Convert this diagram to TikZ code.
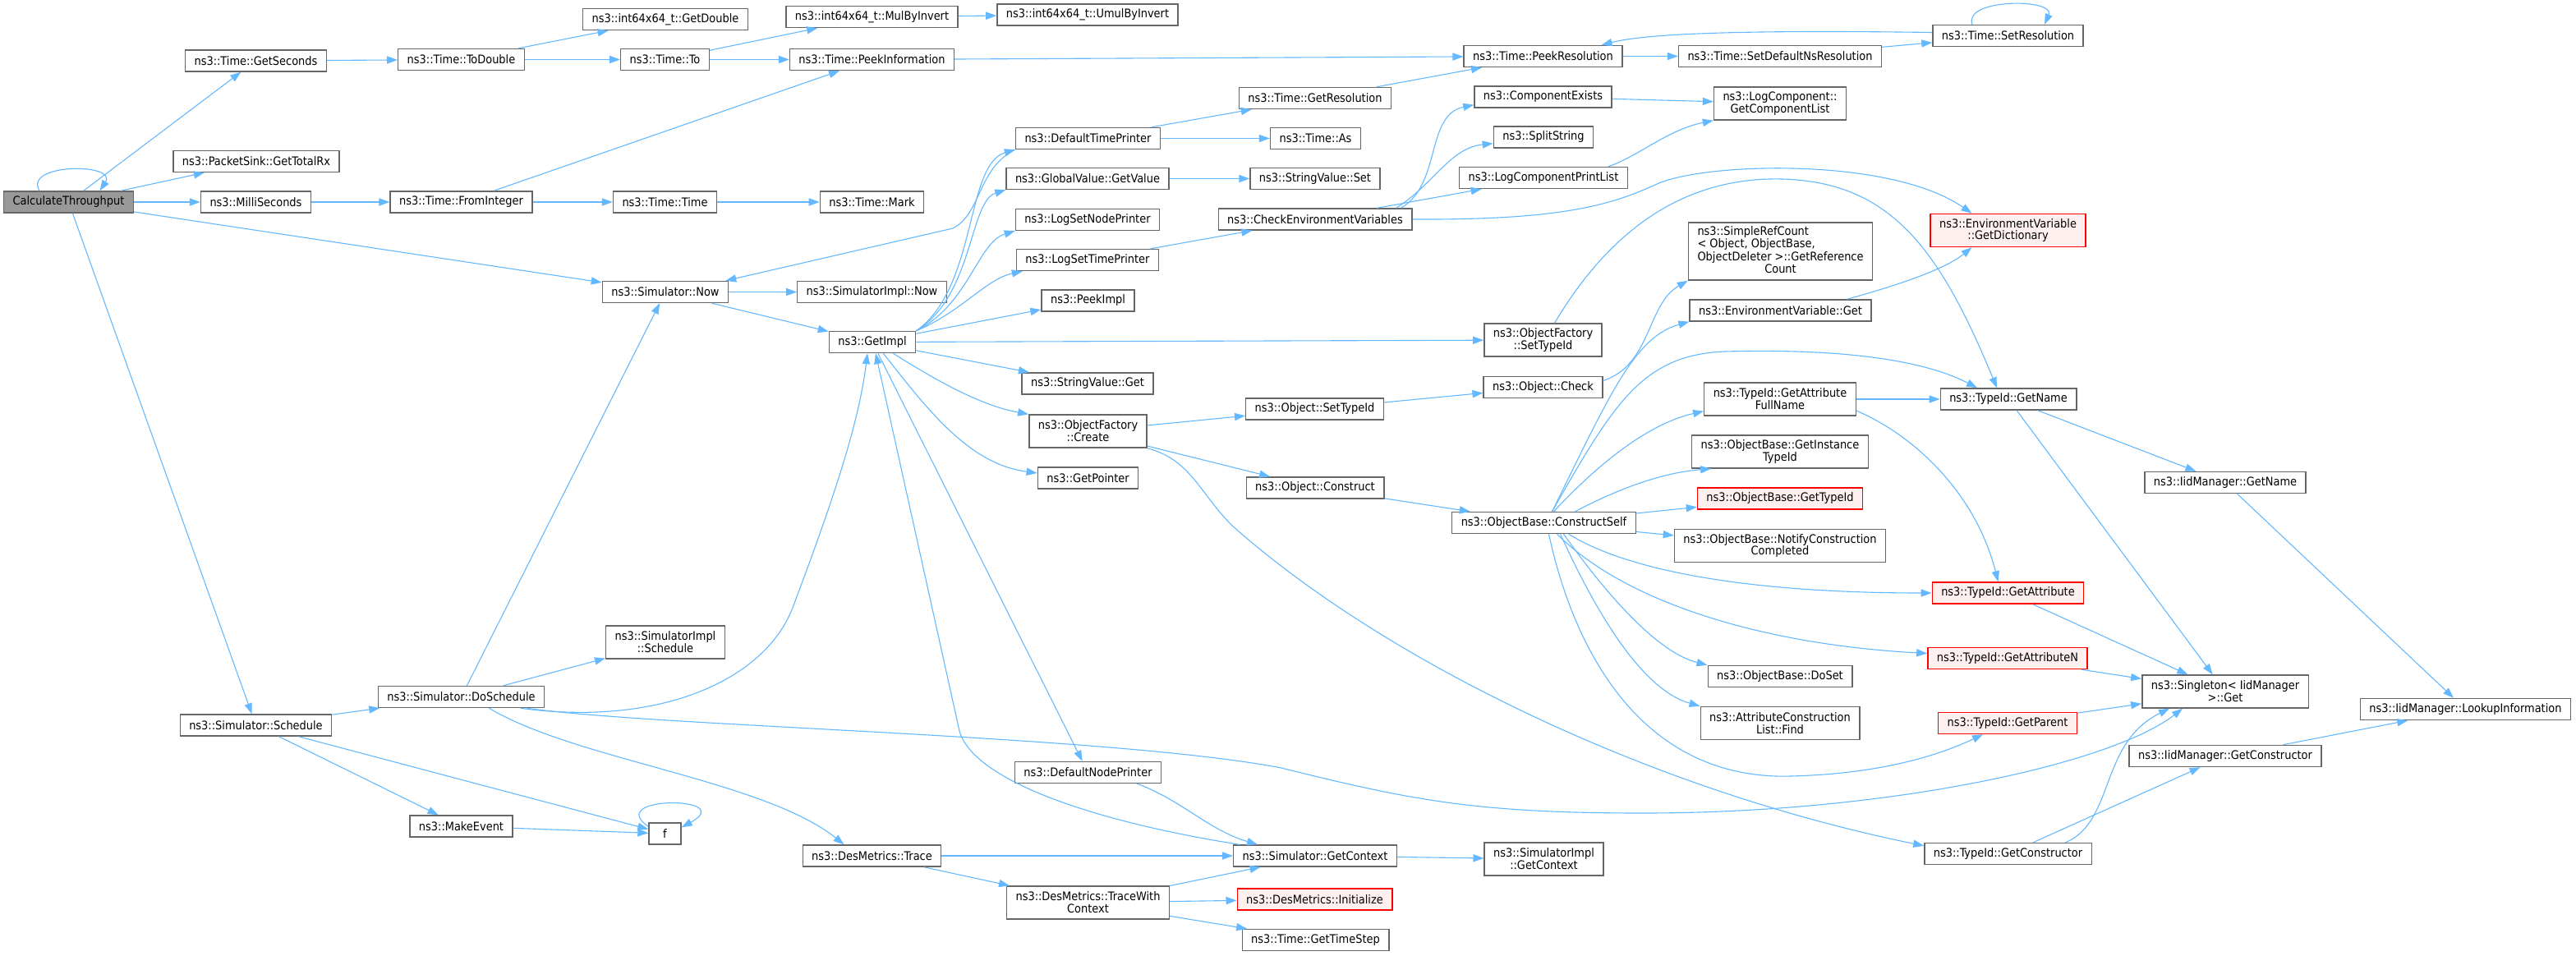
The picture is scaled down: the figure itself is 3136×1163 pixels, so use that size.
\documentclass[tikz,border=0pt]{standalone}
\usepackage{fontspec}
\setmainfont{DejaVu Sans Condensed}
\usetikzlibrary{arrows.meta}
\definecolor{edgeblue}{HTML}{63B8FF}
\definecolor{boxgray}{HTML}{666666}
\definecolor{rootgray}{HTML}{999999}
\definecolor{redfill}{HTML}{FFF0F0}
\tikzstyle{fnbox} = [draw=boxgray, fill=white, line width=0.7pt, inner xsep=5.5pt, inner ysep=2pt, minimum height=13pt, align=center]
\tikzstyle{twoline} = [fnbox, minimum height=20pt]
\tikzstyle{redbox} = [fnbox, draw=red, fill=redfill]
\tikzstyle{call} = [draw=edgeblue, line width=0.55pt, -{Triangle[length=6.5pt,width=4.6pt]}]

\begin{document}
\begin{tikzpicture}[x=0.5pt, y=-0.5pt, font=\fontsize{7.2}{7.4}\selectfont]
      \useasboundingbox (0,0) rectangle (3136,1163);
      \node[fnbox, fill=rootgray] (calc) at (83.5,246) {CalculateThroughput};
      \node[fnbox] (getsec) at (311.5,74) {ns3::Time::GetSeconds};
      \node[fnbox] (totalrx) at (312,196.5) {ns3::PacketSink::GetTotalRx};
      \node[fnbox] (milli) at (311.5,246) {ns3::MilliSeconds};
      \node[fnbox] (simsched) at (311.5,883) {ns3::Simulator::Schedule};
      \node[fnbox] (todouble) at (561.5,72.5) {ns3::Time::ToDouble};
      \node[fnbox] (frominteger) at (561.5,246) {ns3::Time::FromInteger};
      \node[fnbox] (dosched) at (561.5,848.5) {ns3::Simulator::DoSchedule};
      \node[fnbox] (makeevent) at (561.5,1006) {ns3::MakeEvent};
      \node[fnbox] (getdouble) at (810,23.5) {ns3::int64x64\_t::GetDouble};
      \node[fnbox] (timeto) at (809.5,72.5) {ns3::Time::To};
      \node[fnbox] (timetime) at (809.5,246) {ns3::Time::Time};
      \node[fnbox] (simnow) at (810,355.5) {ns3::Simulator::Now};
      \node[twoline] (implsched) at (810,782) {ns3::SimulatorImpl\\::Schedule};
      \node[fnbox, minimum width=19.5pt] (fn) at (809.5,1015) {f};
      \node[fnbox] (mulinv) at (1061.5,20.5) {ns3::int64x64\_t::MulByInvert};
      \node[fnbox] (peekinfo) at (1061.5,72.5) {ns3::Time::PeekInformation};
      \node[fnbox] (timemark) at (1061.5,246) {ns3::Time::Mark};
      \node[fnbox] (implnow) at (1061.5,355.5) {ns3::SimulatorImpl::Now};
      \node[fnbox] (getimpl) at (1062,416.5) {ns3::GetImpl};
      \node[fnbox] (destrace) at (1061.5,1042) {ns3::DesMetrics::Trace};
      \node[fnbox] (umulinv) at (1324,18) {ns3::int64x64\_t::UmulByInvert};
      \node[fnbox] (deftimepr) at (1324.5,168.5) {ns3::DefaultTimePrinter};
      \node[fnbox] (globalget) at (1324,217.5) {ns3::GlobalValue::GetValue};
      \node[fnbox] (lognodepr) at (1324,267.5) {ns3::LogSetNodePrinter};
      \node[fnbox] (logtimepr) at (1324,316.5) {ns3::LogSetTimePrinter};
      \node[fnbox] (peekimpl) at (1324.5,366) {ns3::PeekImpl};
      \node[fnbox] (strget) at (1324,467) {ns3::StringValue::Get};
      \node[twoline] (ofcreate) at (1324.5,525) {ns3::ObjectFactory\\::Create};
      \node[fnbox] (getptr) at (1324.5,582) {ns3::GetPointer};
      \node[fnbox] (defnodepr) at (1324.5,940.5) {ns3::DefaultNodePrinter};
      \node[twoline] (tracectx) at (1324.5,1099) {ns3::DesMetrics::TraceWith\\Context};
      \node[fnbox] (getres) at (1601,119.5) {ns3::Time::GetResolution};
      \node[fnbox] (timeas) at (1601.5,168.5) {ns3::Time::As};
      \node[fnbox] (strset) at (1601,217.5) {ns3::StringValue::Set};
      \node[fnbox] (checkenv) at (1601,267) {ns3::CheckEnvironmentVariables};
      \node[fnbox] (objsettid) at (1600.5,498) {ns3::Object::SetTypeId};
      \node[fnbox] (objconstruct) at (1601,594) {ns3::Object::Construct};
      \node[fnbox] (simctx) at (1601,1042) {ns3::Simulator::GetContext};
      \node[redbox] (desinit) at (1600.5,1095) {ns3::DesMetrics::Initialize};
      \node[fnbox] (timestep) at (1601.5,1144.5) {ns3::Time::GetTimeStep};
      \node[fnbox] (peekres) at (1878.5,68.5) {ns3::Time::PeekResolution};
      \node[fnbox] (compexists) at (1878.5,118) {ns3::ComponentExists};
      \node[fnbox] (splitstr) at (1879,167) {ns3::SplitString};
      \node[fnbox] (logprint) at (1879,216.5) {ns3::LogComponentPrintList};
      \node[twoline] (ofsettid) at (1878.5,414) {ns3::ObjectFactory\\::SetTypeId};
      \node[fnbox] (objcheck) at (1878.5,471.5) {ns3::Object::Check};
      \node[fnbox] (cself) at (1879.5,636.5) {ns3::ObjectBase::ConstructSelf};
      \node[twoline] (implctx) at (1879.5,1046) {ns3::SimulatorImpl\\::GetContext};
      \node[fnbox] (setdefres) at (2167,68.5) {ns3::Time::SetDefaultNsResolution};
      \node[twoline] (complist) at (2167,126) {ns3::LogComponent::\\GetComponentList};
      \node[fnbox, minimum height=35pt] (refcount) at (2167.5,306) {\begin{tabular}{@{}l@{}}ns3::SimpleRefCount\\< Object, ObjectBase,\\ ObjectDeleter >::GetReference\\\multicolumn{1}{@{}c@{}}{Count}\end{tabular}};
      \node[fnbox] (envget) at (2167.5,378) {ns3::EnvironmentVariable::Get};
      \node[twoline] (attrfull) at (2167,486) {ns3::TypeId::GetAttribute\\FullName};
      \node[twoline] (insttid) at (2167,550) {ns3::ObjectBase::GetInstance\\TypeId};
      \node[redbox] (obtid) at (2167,607) {ns3::ObjectBase::GetTypeId};
      \node[twoline] (notify) at (2167,664.5) {ns3::ObjectBase::NotifyConstruction\\Completed};
      \node[fnbox] (doset) at (2167,823.5) {ns3::ObjectBase::DoSet};
      \node[twoline] (attrfind) at (2167,880.5) {ns3::AttributeConstruction\\List::Find};
      \node[fnbox] (setres) at (2444.5,43.5) {ns3::Time::SetResolution};
      \node[redbox, minimum height=20pt] (getdict) at (2444.5,280.5) {ns3::EnvironmentVariable\\::GetDictionary};
      \node[fnbox] (tidname) at (2445,486) {ns3::TypeId::GetName};
      \node[redbox] (tidattr) at (2444.5,722) {ns3::TypeId::GetAttribute};
      \node[redbox] (tidattrn) at (2444,801.5) {ns3::TypeId::GetAttributeN};
      \node[redbox] (tidparent) at (2444,880.5) {ns3::TypeId::GetParent};
      \node[fnbox] (tidctor) at (2444.5,1039.5) {ns3::TypeId::GetConstructor};
      \node[fnbox] (iidname) at (2709,587.5) {ns3::IidManager::GetName};
      \node[twoline] (singleton) at (2709,842) {ns3::Singleton< IidManager\\>::Get};
      \node[fnbox] (iidctor) at (2709,920.5) {ns3::IidManager::GetConstructor};
      \node[fnbox] (lookup) at (3001.5,863.5) {ns3::IidManager::LookupInformation};

      \draw[call] ([xshift=-17.75pt]calc.north) .. controls +(-20,-34) and +(22,-34) .. ([xshift=19pt]calc.north);
      \draw[call] (calc) -- (getsec);
      \draw[call] (calc) -- (totalrx);
      \draw[call] (calc) -- (milli);
      \draw[call] (calc) -- (simnow);
      \draw[call] (calc) -- (simsched);
      \draw[call] (getsec) -- (todouble);
      \draw[call] (todouble) -- (getdouble);
      \draw[call] (todouble) -- (timeto);
      \draw[call] (timeto) -- (mulinv);
      \draw[call] (timeto) -- (peekinfo);
      \draw[call] (mulinv) -- (umulinv);
      \draw[call] (peekinfo) -- (peekres);
      \draw[call] (milli) -- (frominteger);
      \draw[call] (frominteger) -- (peekinfo);
      \draw[call] (frominteger) -- (timetime);
      \draw[call] (timetime) -- (timemark);
      \draw[call] (peekres) -- (setdefres);
      \draw[call] (setdefres) -- (setres);
      \draw[call] ([xshift=-21.75pt]setres.north) .. controls +(-12,-32) and +(14,-32) .. ([xshift=22.25pt]setres.north);
      \draw[call] ([yshift=2pt]setres.west) .. controls (2100,36) and (2000,42) .. ([xshift=-13pt]peekres.north east);
      \draw[call] (getres) -- (peekres);
      \draw[call] (deftimepr) -- (getres);
      \draw[call] (deftimepr) -- (timeas);
      \draw[call] (deftimepr.south west) .. controls (1190,205) and (1195,260) .. (1160,278) -- ([xshift=-2pt]simnow.north east);
      \draw[call] (globalget) -- (strset);
      \draw[call] (logtimepr) -- (checkenv);
      \draw[call] ([xshift=-7pt]checkenv.north east) .. controls (1755,225) and (1735,140) .. ([yshift=2pt]compexists.south west);
      \draw[call] ([xshift=-10pt]checkenv.north east) .. controls (1745,225) and (1765,180) .. ([yshift=3pt]splitstr.south west);
      \draw[call] (checkenv) -- (logprint);
      \draw[call] (checkenv.east) .. controls (1900,268) and (1960,250) .. (2015,225) .. controls (2070,198) and (2300,190) .. ([xshift=-22pt]getdict.north);
      \draw[call] (compexists) -- (complist);
      \draw[call] ([xshift=-12pt]logprint.north east) .. controls (1995,190) and (2030,158) .. (complist.south west);
      \draw[call] (simnow) -- (implnow);
      \draw[call] (simnow) -- (getimpl);
      \draw[call] (getimpl.north east) .. controls (1190,350) and (1175,200) .. (deftimepr.south west);
      \draw[call] (getimpl.north east) .. controls (1185,360) and (1180,245) .. (globalget.south west);
      \draw[call] (getimpl.north east) .. controls (1180,370) and (1190,295) .. (lognodepr.south west);
      \draw[call] (getimpl.north east) .. controls (1170,380) and (1200,340) .. ([xshift=4pt]logtimepr.south west);
      \draw[call] (getimpl) -- (peekimpl);
      \draw[call] (getimpl) -- (ofsettid);
      \draw[call] (getimpl) -- (strget);
      \draw[call] ([xshift=-14pt]getimpl.south east) .. controls (1150,470) and (1200,495) .. (ofcreate.north west);
      \draw[call] ([xshift=-20pt]getimpl.south east) .. controls (1130,500) and (1180,565) .. ([yshift=3pt]getptr.west);
      \draw[call] (getimpl) -- (defnodepr);
      \draw[call] (dosched) -- (simnow);
      \draw[call] (simsched) -- (dosched);
      \draw[call] (simsched) -- (makeevent);
      \draw[call] (simsched) -- (fn);
      \draw[call] (makeevent) -- (fn);
      \draw[call] ([yshift=-2.5pt]fn.north west) .. controls +(-55,-38) and +(70,-38) .. ([yshift=-3pt]fn.north east);
      \draw[call] (dosched) -- (implsched);
      \draw[call] ([xshift=-15pt]dosched.south east) .. controls (800,885) and (930,830) .. (965,740) .. controls (1010,620) and (1045,520) .. ([xshift=-3pt]getimpl.south);
      \draw[call] ([xshift=-11pt]dosched.south east) .. controls (800,885) and (1350,895) .. (1560,935) .. controls (1720,975) and (1800,990) .. (2000,990) .. controls (2300,990) and (2570,930) .. ([xshift=-26pt]singleton.south);
      \draw[call] ([xshift=-34pt]dosched.south east) .. controls (700,925) and (930,950) .. ([xshift=-17pt]destrace.north);
      \draw[call] (destrace) -- (simctx);
      \draw[call] (destrace) -- (tracectx);
      \draw[call] (tracectx) -- (simctx);
      \draw[call] (tracectx) -- (desinit);
      \draw[call] (tracectx) -- (timestep);
      \draw[call] ([xshift=-15pt]defnodepr.south east) .. controls (1440,975) and (1470,1010) .. ([xshift=15pt]simctx.north west);
      \draw[call] ([xshift=4pt]simctx.north west) .. controls (1330,1000) and (1185,950) .. (1168,890) -- ([xshift=2pt]getimpl.south);
      \draw[call] (simctx) -- (implctx);
      \draw[call] (ofcreate) -- (objsettid);
      \draw[call] (ofcreate) -- (objconstruct);
      \draw[call] (ofcreate.south east) .. controls (1450,560) and (1460,600) .. (1500,640) .. controls (1680,800) and (2000,960) .. ([yshift=-2pt]tidctor.north west);
      \draw[call] (objsettid) -- (objcheck);
      \draw[call] ([yshift=4pt]objcheck.east) .. controls (2010,445) and (2005,370) .. (refcount.south west);
      \draw[call] ([xshift=7pt]ofsettid.north) .. controls (1960,280) and (2050,215) .. (2170,218) .. controls (2300,222) and (2360,300) .. ([xshift=-7pt]tidname.north);
      \draw[call] (objconstruct) -- (cself);
      \draw[call] ([xshift=5pt]cself.north) .. controls (1960,480) and (1990,410) .. (envget.south west);
      \draw[call] ([xshift=5pt]cself.north) .. controls (1965,490) and (2000,432) .. (2100,428) .. controls (2250,424) and (2345,440) .. ([xshift=-19pt]tidname.north);
      \draw[call] ([xshift=6pt]cself.north) .. controls (1950,560) and (2010,515) .. ([yshift=3pt]attrfull.south west);
      \draw[call] ([xshift=19pt]cself.north) .. controls (1980,590) and (2030,575) .. ([xshift=12pt]insttid.south west);
      \draw[call] (cself) -- (obtid);
      \draw[call] (cself) -- (notify);
      \draw[call] ([xshift=15pt]cself.south) .. controls (1990,700) and (2150,722) .. (tidattr.west);
      \draw[call] ([xshift=8pt]cself.south) .. controls (1980,735) and (2150,785) .. ([yshift=3pt]tidattrn.west);
      \draw[call] ([xshift=12pt]cself.south) .. controls (1960,730) and (2020,795) .. (doset.north west);
      \draw[call] ([xshift=10pt]cself.south) .. controls (1945,750) and (2000,840) .. (attrfind.north west);
      \draw[call] ([xshift=3pt]cself.south) .. controls (1920,810) and (2010,950) .. (2180,945) .. controls (2300,942) and (2370,915) .. ([xshift=-15pt]tidparent.south);
      \draw[call] ([xshift=-15pt]envget.north east) .. controls (2300,350) and (2365,330) .. ([xshift=-22pt]getdict.south);
      \draw[call] (attrfull) -- (tidname);
      \draw[call] ([yshift=-7pt]attrfull.east) .. controls (2330,530) and (2405,600) .. ([xshift=-6pt]tidattr.north);
      \draw[call] (tidname) -- (iidname);
      \draw[call] (tidname) -- (singleton);
      \draw[call] (iidname) -- (lookup);
      \draw[call] (tidattr) -- (singleton);
      \draw[call] (tidattrn) -- (singleton);
      \draw[call] (tidparent) -- (singleton);
      \draw[call] ([xshift=35pt]tidctor.north) .. controls (2575,1000) and (2555,905) .. ([xshift=-34pt]singleton.south);
      \draw[call] (tidctor) -- (iidctor);
      \draw[call] (iidctor) -- (lookup);
    \end{tikzpicture}
\end{document}
